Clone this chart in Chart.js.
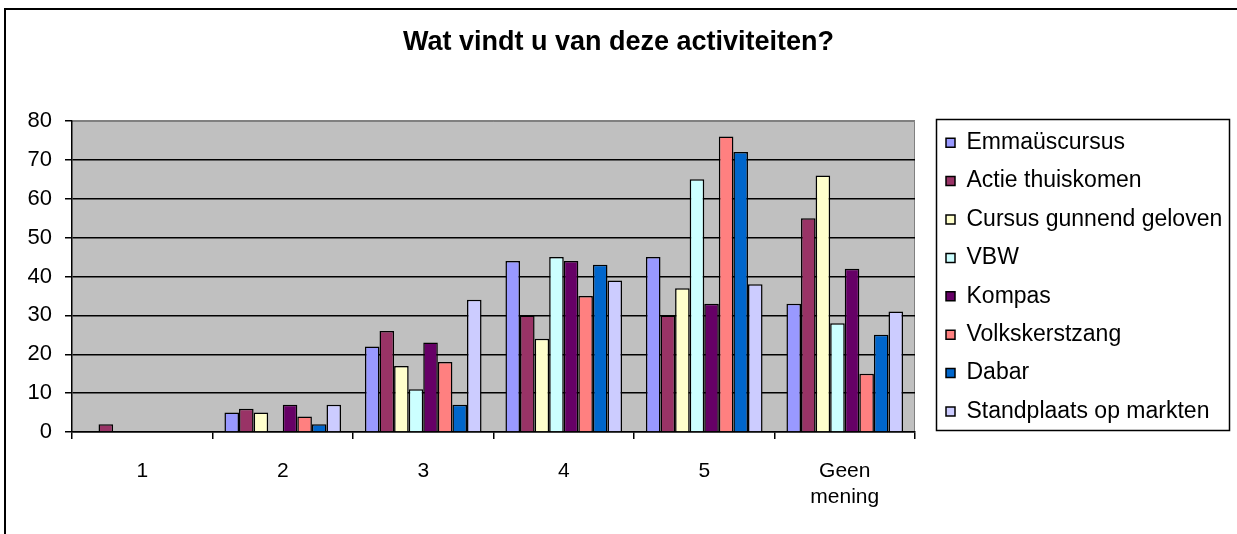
<!DOCTYPE html>
<html>
<head>
<meta charset="utf-8">
<script src="https://cdn.jsdelivr.net/npm/chart.js@4/dist/chart.umd.min.js"></script>
<style>
  body { margin: 0; background: #fff; }
  #wrap { width: 1237px; height: 534px; }
</style>
</head>
<body>
<div id="wrap"><canvas id="myChart"></canvas></div>
<script>
let categories = ['1', '2', '3', '4', '5', ['Geen', 'mening']];

let emmaus = [0, 5, 22, 44, 45, 33];
let actie = [2, 6, 26, 30, 30, 55];
let cursus = [0, 5, 17, 24, 37, 66];
let vbw = [0, 0, 11, 45, 65, 28];
let kompas = [0, 7, 23, 44, 33, 42];
let volks = [0, 4, 18, 35, 76, 15];
let dabar = [0, 2, 7, 43, 72, 25];
let standplaats = [0, 7, 34, 39, 38, 31];

let seriesNames = ['Emmaüscursus', 'Actie thuiskomen', 'Cursus gunnend geloven', 'VBW',
                   'Kompas', 'Volkskerstzang', 'Dabar', 'Standplaats op markten'];
let seriesData = [emmaus, actie, cursus, vbw, kompas, volks, dabar, standplaats];
let seriesColors = ['#9999FF', '#993366', '#FFFFCC', '#CCFFFF', '#660066', '#FF8080', '#0066CC', '#CCCCFF'];

let yTicks = [0, 10, 20, 30, 40, 50, 60, 70, 80];

Chart.defaults.font.family = "'Liberation Sans', Arial, sans-serif";
Chart.defaults.color = '#000';

// excel style frame, grey plot area and legend box
let excelLook = {
    id: 'excelLook',
    beforeLayout(chart) {
        let lg = chart.legend;
        if (lg && !lg._patched) {
            let fit = lg.fit;
            lg.fit = function () { fit.call(this); this.width = 322; };
            lg._patched = true;
        }
    },
    afterLayout(chart) {
        let lg = chart.legend;
        lg.left = 930.6;
        lg.right = 1237;
        lg.top = 115.8;
        lg.bottom = 534;
    },
    beforeDraw(chart) {
        let ctx = chart.ctx, a = chart.chartArea;
        ctx.save();
        ctx.fillStyle = '#fff';
        ctx.fillRect(0, 0, chart.width, chart.height);
        ctx.strokeStyle = '#000';
        ctx.lineWidth = 2;
        ctx.strokeRect(5, 9, chart.width + 10, chart.height + 10);
        ctx.fillStyle = '#C0C0C0';
        ctx.fillRect(a.left, a.top, a.right - a.left, a.bottom - a.top);
        ctx.strokeStyle = '#808080';
        ctx.lineWidth = 1;
        ctx.beginPath();
        ctx.moveTo(a.left, a.top + 0.5);
        ctx.lineTo(a.right - 0.5, a.top + 0.5);
        ctx.lineTo(a.right - 0.5, a.bottom);
        ctx.stroke();
        ctx.restore();
    },
    afterDraw(chart) {
        let ctx = chart.ctx;
        ctx.save();
        ctx.strokeStyle = '#000';
        ctx.lineWidth = 1.5;
        ctx.strokeRect(936.5, 119.5, 293, 311);
        ctx.restore();
    }
};

let ctx = document.getElementById('myChart');
let myChart = new Chart(ctx, {
    type: 'bar',
    data: {
        labels: categories,
        datasets: seriesNames.map((name, i) => ({
            label: name,
            data: seriesData[i],
            backgroundColor: seriesColors[i],
            borderColor: '#000',
            borderWidth: 1.5,
            barPercentage: 1,
            categoryPercentage: 0.83
        }))
    },
    options: {
        responsive: true,
        maintainAspectRatio: false,
        animation: false,
        layout: { padding: 0 },
        plugins: {
            title: {
                display: true,
                text: 'Wat vindt u van deze activiteiten?',
                color: '#000',
                font: { size: 27, weight: 'bold' },
                padding: { top: 26.8, bottom: 61.8 }
            },
            legend: {
                position: 'right',
                align: 'start',
                labels: {
                    boxWidth: 9,
                    boxHeight: 9,
                    padding: 15.4,
                    color: '#000',
                    font: { size: 23 }
                }
            },
            tooltip: { enabled: false }
        },
        scales: {
            x: {
                grid: {
                    drawOnChartArea: false,
                    drawTicks: true,
                    tickLength: 7,
                    color: '#000',
                    lineWidth: 1.5,
                    offset: true
                },
                border: { color: '#000', width: 1.5 },
                ticks: {
                    color: '#000',
                    font: { size: 21, lineHeight: 1.25 },
                    padding: 19,
                    maxRotation: 0,
                    autoSkip: false
                },
                afterFit(scale) { scale.height = 102; }
            },
            y: {
                min: yTicks[0],
                max: yTicks[yTicks.length - 1],
                afterBuildTicks(scale) { scale.ticks = yTicks.map(v => ({ value: v })); },
                grid: {
                    color: c => (c.tick && c.tick.value === 80 ? '#808080' : '#000'),
                    tickColor: '#000',
                    tickLength: 7,
                    lineWidth: 1.5
                },
                border: { color: '#000', width: 1.5 },
                ticks: {
                    color: '#000',
                    font: { size: 22 },
                    padding: 13
                },
                afterFit(scale) { scale.width = 72; }
            }
        }
    },
    plugins: [excelLook]
});
</script>
</body>
</html>
